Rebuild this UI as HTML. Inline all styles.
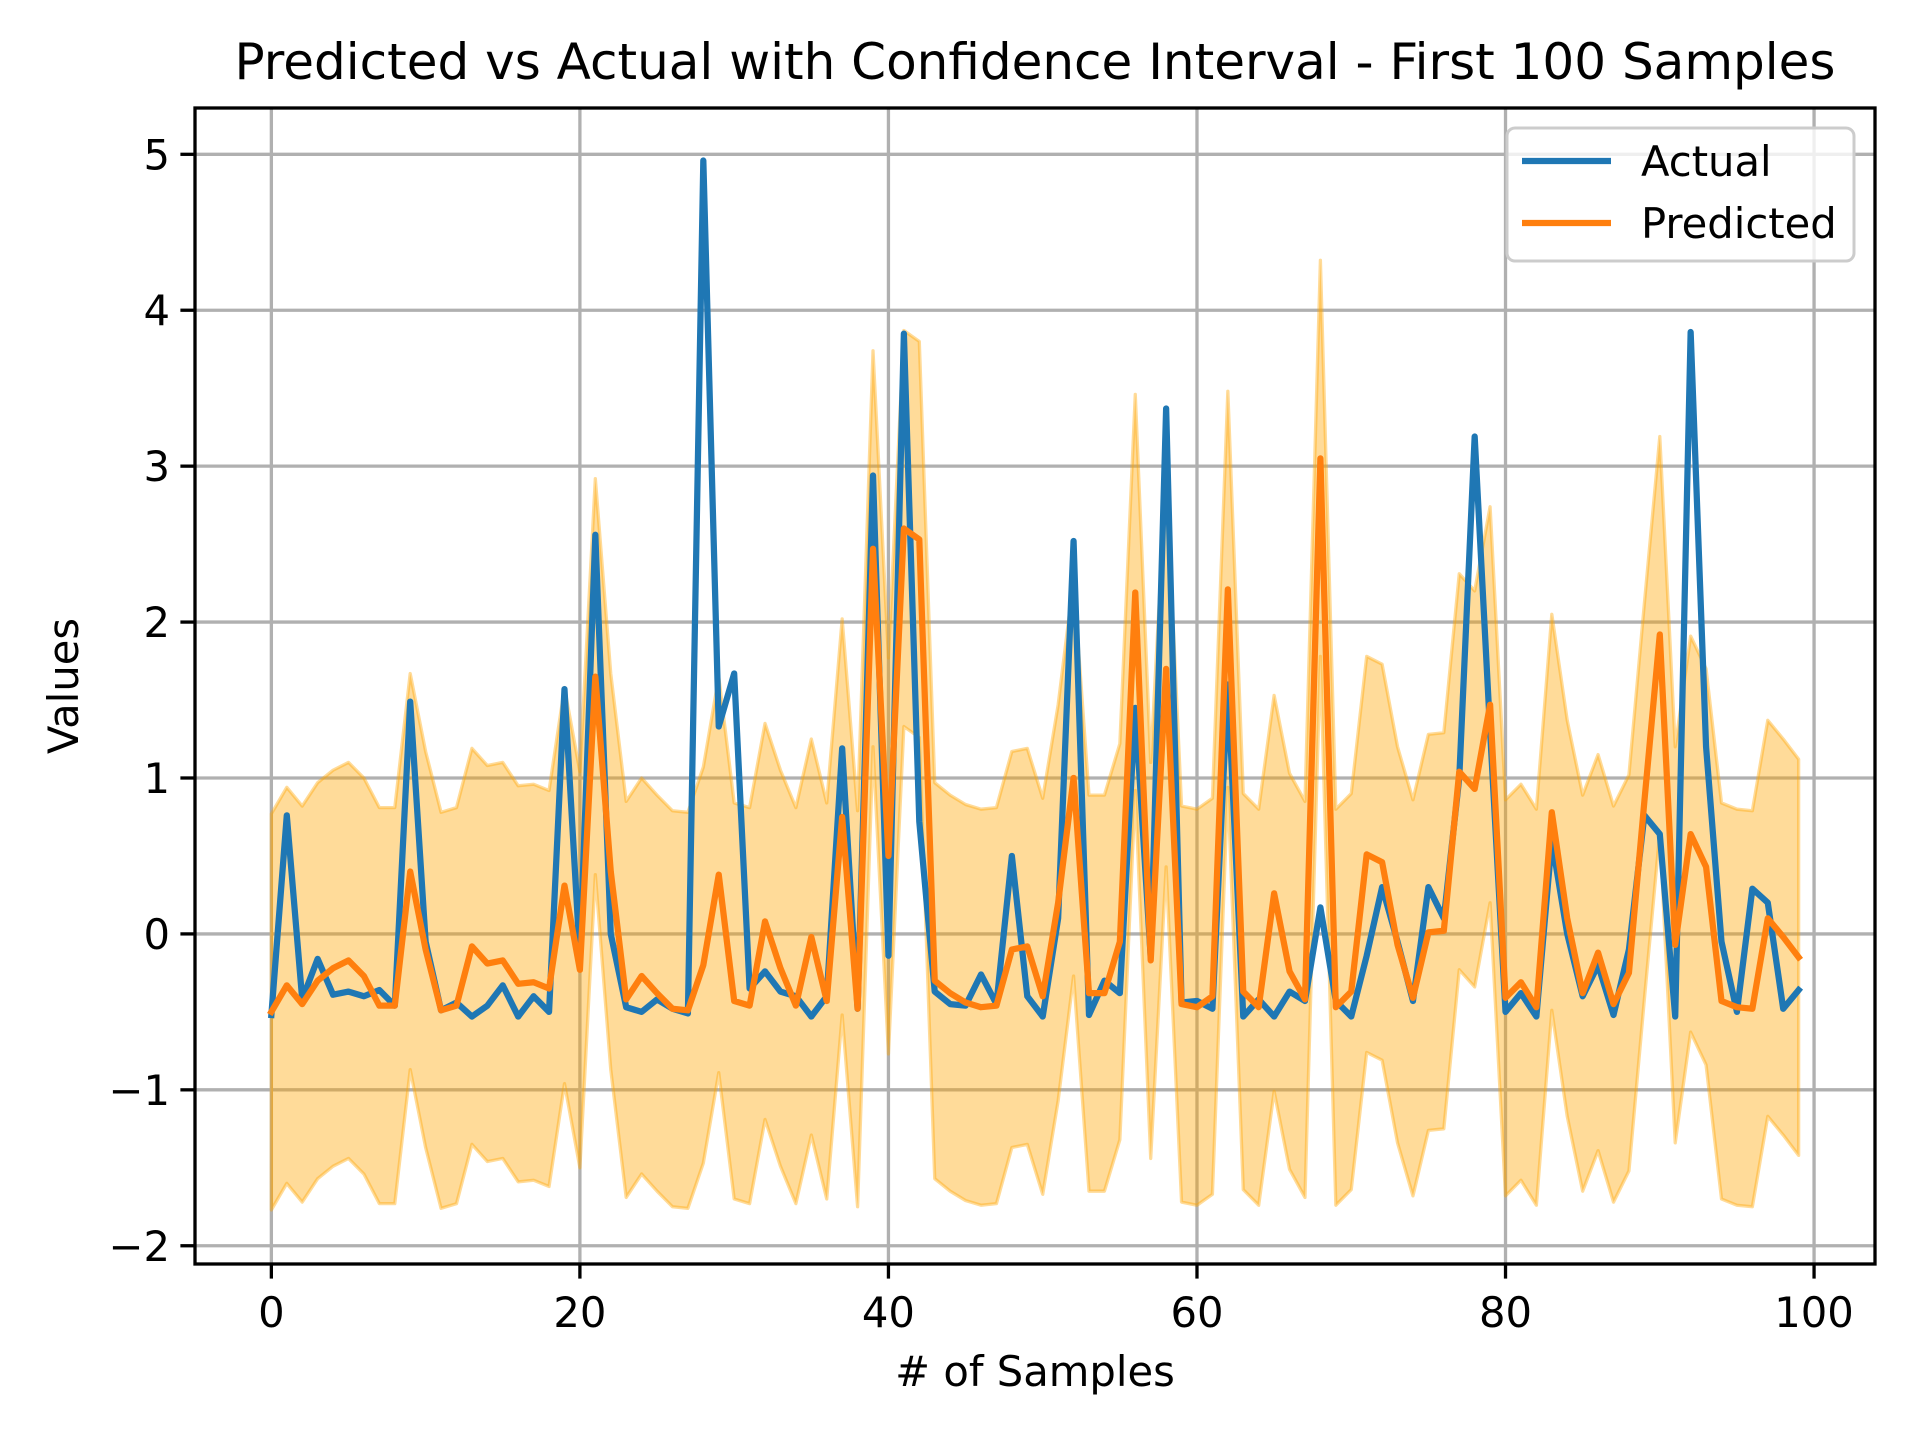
<!DOCTYPE html>
<html><head><meta charset="utf-8"><style>
html,body{margin:0;padding:0;background:#fff;}
svg{display:block;font-family:"DejaVu Sans","Liberation Sans",sans-serif;}
</style></head><body>
<svg id="chart" width="1920" height="1440" viewBox="0 0 1920 1440" xmlns="http://www.w3.org/2000/svg">
<rect width="1920" height="1440" fill="#fff"/>
<g id="grid"></g>
<g id="band"></g>
<g id="series"></g>
<g id="axes"></g>
<text x="1035" y="79" font-size="50" text-anchor="middle" fill="#000">Predicted vs Actual with Confidence Interval - First 100 Samples</text>
<text x="1035" y="1386" font-size="41.7" text-anchor="middle" fill="#000"># of Samples</text>
<text x="0" y="0" font-size="41.7" text-anchor="middle" fill="#000" transform="translate(78,686) rotate(-90)">Values</text>
<g>
<rect x="1507" y="128" width="347" height="133" rx="8" fill="#fff" fill-opacity="0.8" stroke="#cccccc" stroke-width="3"/>
<line x1="1522" y1="161" x2="1611" y2="161" stroke="#1f77b4" stroke-width="6.25"/>
<text x="1641" y="176" font-size="41.7" fill="#000">Actual</text>
<line x1="1522" y1="223" x2="1611" y2="223" stroke="#ff7f0e" stroke-width="6.25"/>
<text x="1641" y="238" font-size="41.7" fill="#000">Predicted</text>
</g>
</svg>
<script>
const actual=[-0.52,0.76,-0.42,-0.16,-0.39,-0.37,-0.40,-0.36,-0.46,1.49,-0.05,-0.49,-0.44,-0.53,-0.46,-0.33,-0.53,-0.40,-0.50,1.57,-0.15,2.56,0.0,-0.47,-0.50,-0.42,-0.48,-0.51,4.96,1.33,1.67,-0.35,-0.24,-0.37,-0.40,-0.53,-0.40,1.19,-0.48,2.94,-0.14,3.85,0.72,-0.37,-0.45,-0.46,-0.26,-0.45,0.50,-0.40,-0.53,0.10,2.52,-0.52,-0.30,-0.38,1.45,-0.15,3.37,-0.44,-0.43,-0.48,1.60,-0.53,-0.42,-0.53,-0.37,-0.43,0.17,-0.43,-0.53,-0.14,0.30,-0.05,-0.43,0.30,0.10,1.00,3.19,1.30,-0.50,-0.38,-0.53,0.60,0.0,-0.40,-0.20,-0.52,-0.10,0.76,0.64,-0.53,3.86,1.20,-0.05,-0.50,0.29,0.20,-0.48,-0.36];
const predicted=[-0.50,-0.33,-0.45,-0.30,-0.22,-0.17,-0.27,-0.46,-0.46,0.40,-0.10,-0.49,-0.46,-0.08,-0.19,-0.17,-0.32,-0.31,-0.35,0.31,-0.23,1.65,0.40,-0.42,-0.27,-0.38,-0.48,-0.49,-0.20,0.38,-0.43,-0.46,0.08,-0.22,-0.46,-0.02,-0.43,0.75,-0.48,2.47,0.50,2.60,2.53,-0.30,-0.38,-0.44,-0.47,-0.46,-0.10,-0.08,-0.40,0.20,1.00,-0.38,-0.38,-0.05,2.19,-0.17,1.70,-0.45,-0.47,-0.40,2.21,-0.37,-0.47,0.26,-0.24,-0.42,3.05,-0.47,-0.37,0.51,0.46,-0.07,-0.41,0.01,0.02,1.04,0.93,1.47,-0.41,-0.31,-0.47,0.78,0.10,-0.38,-0.12,-0.45,-0.25,0.85,1.92,-0.07,0.64,0.43,-0.43,-0.47,-0.48,0.10,-0.02,-0.15];
const upper=[0.77,0.94,0.82,0.97,1.05,1.10,1.00,0.81,0.81,1.67,1.17,0.78,0.81,1.19,1.08,1.10,0.95,0.96,0.92,1.58,1.04,2.92,1.67,0.85,1.00,0.89,0.79,0.78,1.07,1.65,0.84,0.81,1.35,1.05,0.81,1.25,0.84,2.02,0.79,3.74,1.77,3.87,3.80,0.97,0.89,0.83,0.80,0.81,1.17,1.19,0.87,1.47,2.27,0.89,0.89,1.22,3.46,1.10,2.97,0.82,0.80,0.87,3.48,0.90,0.80,1.53,1.03,0.85,4.32,0.80,0.90,1.78,1.73,1.20,0.86,1.28,1.29,2.31,2.20,2.74,0.86,0.96,0.80,2.05,1.37,0.89,1.15,0.82,1.02,2.12,3.19,1.20,1.91,1.70,0.84,0.80,0.79,1.37,1.25,1.12];
const lower=[-1.77,-1.60,-1.72,-1.57,-1.49,-1.44,-1.54,-1.73,-1.73,-0.87,-1.37,-1.76,-1.73,-1.35,-1.46,-1.44,-1.59,-1.58,-1.62,-0.96,-1.50,0.38,-0.87,-1.69,-1.54,-1.65,-1.75,-1.76,-1.47,-0.89,-1.70,-1.73,-1.19,-1.49,-1.73,-1.29,-1.70,-0.52,-1.75,1.20,-0.77,1.33,1.26,-1.57,-1.65,-1.71,-1.74,-1.73,-1.37,-1.35,-1.67,-1.07,-0.27,-1.65,-1.65,-1.32,0.92,-1.44,0.43,-1.72,-1.74,-1.67,0.94,-1.64,-1.74,-1.01,-1.51,-1.69,1.78,-1.74,-1.64,-0.76,-0.81,-1.34,-1.68,-1.26,-1.25,-0.23,-0.34,0.20,-1.68,-1.58,-1.74,-0.49,-1.17,-1.65,-1.39,-1.72,-1.52,-0.42,0.65,-1.34,-0.63,-0.84,-1.70,-1.74,-1.75,-1.17,-1.29,-1.42];
const xTicks=[0,20,40,60,80,100];
const yTicks=[-2,-1,0,1,2,3,4,5];
const yTickLabels=["\u22122","\u22121","0","1","2","3","4","5"];

const AX={l:195,r:1875,t:108,b:1264};
const XMIN=-4.95,XMAX=103.95,YMIN=-2.117,YMAX=5.297;
function sx(v){return AX.l+(v-XMIN)/(XMAX-XMIN)*(AX.r-AX.l);}
function sy(v){return AX.b-(v-YMIN)/(YMAX-YMIN)*(AX.b-AX.t);}
const NS='http://www.w3.org/2000/svg';
function mk(tag,attrs,parent){const e=document.createElementNS(NS,tag);for(const k in attrs)e.setAttribute(k,attrs[k]);parent.appendChild(e);return e;}

const grid=document.getElementById('grid');
xTicks.forEach(t=>{const l=mk('line',{x1:sx(t),x2:sx(t),y1:AX.t,y2:AX.b,stroke:'#b0b0b0','stroke-width':3.3},grid);

});
yTicks.forEach(t=>{const l=mk('line',{x1:AX.l,x2:AX.r,y1:sy(t),y2:sy(t),stroke:'#b0b0b0','stroke-width':3.3},grid);

});

const band=document.getElementById('band');
let pts=[];
upper.forEach((v,i)=>pts.push(sx(i)+','+sy(v)));
for(let i=lower.length-1;i>=0;i--)pts.push(sx(i)+','+sy(lower[i]));
const poly=mk('polygon',{points:pts.join(' '),fill:'#ffa500','fill-opacity':0.4,stroke:'#ffa500','stroke-opacity':0.4,'stroke-width':3.3,'stroke-linejoin':'round'},band);



const series=document.getElementById('series');
function line(arr,color,name){const p=mk('polyline',{points:arr.map((v,i)=>sx(i)+','+sy(v)).join(' '),fill:'none',stroke:color,'stroke-width':6.25,'stroke-linejoin':'round','stroke-linecap':'square'},series);

}
line(actual,'#1f77b4','actual-line');
line(predicted,'#ff7f0e','predicted-line');

const axes=document.getElementById('axes');
const frame=mk('rect',{x:AX.l,y:AX.t,width:AX.r-AX.l,height:AX.b-AX.t,fill:'none',stroke:'#000','stroke-width':3.3},axes);


xTicks.forEach(t=>{const tk=mk('line',{x1:sx(t),x2:sx(t),y1:AX.b,y2:AX.b+14.6,stroke:'#000','stroke-width':3.3},axes);


const tx=mk('text',{x:sx(t),y:AX.b+63,'font-size':41.7,'text-anchor':'middle',fill:'#000'},axes);
tx.textContent=String(t);

});
yTicks.forEach((t,i)=>{const tk=mk('line',{x1:AX.l-14.6,x2:AX.l,y1:sy(t),y2:sy(t),stroke:'#000','stroke-width':3.3},axes);


const tx=mk('text',{x:AX.l-25,y:sy(t)+15,'font-size':41.7,'text-anchor':'end',fill:'#000'},axes);
tx.textContent=yTickLabels[i];

});
</script>
</body></html>
